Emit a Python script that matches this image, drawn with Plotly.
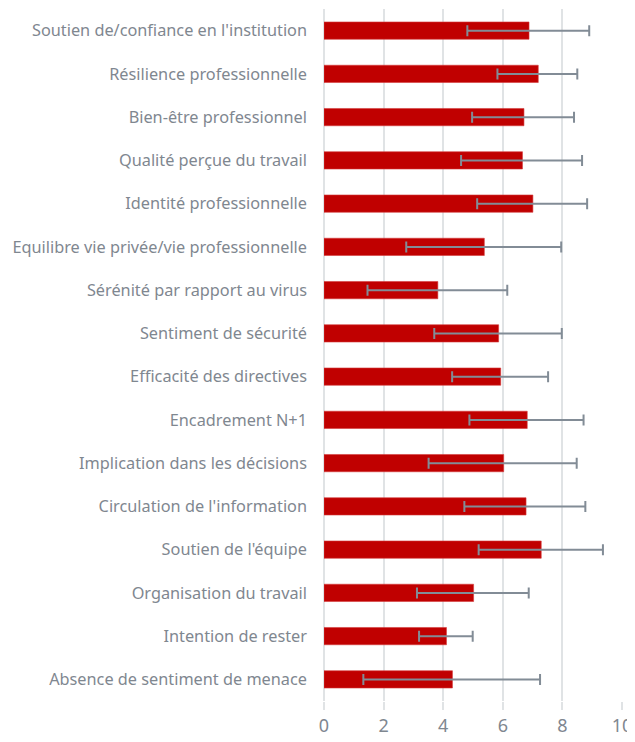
import plotly.graph_objects as go

categories = [
    "Soutien de/confiance en l'institution",
    "Résilience professionnelle",
    "Bien-être professionnel",
    "Qualité perçue du travail",
    "Identité professionnelle",
    "Equilibre vie privée/vie professionnelle",
    "Sérénité par rapport au virus",
    "Sentiment de sécurité",
    "Efficacité des directives",
    "Encadrement N+1",
    "Implication dans les décisions",
    "Circulation de l'information",
    "Soutien de l'équipe",
    "Organisation du travail",
    "Intention de rester",
    "Absence de sentiment de menace",
]
means = [6.88, 7.19, 6.71, 6.66, 7.01, 5.38, 3.82, 5.86, 5.93, 6.82, 6.03, 6.78, 7.29, 5.02, 4.11, 4.31]
err_plus = [2.02, 1.31, 1.68, 2.00, 1.82, 2.58, 2.33, 2.12, 1.59, 1.89, 2.45, 1.99, 2.07, 1.85, 0.88, 2.94]
err_minus = [2.07, 1.37, 1.74, 2.06, 1.87, 2.62, 2.36, 2.16, 1.63, 1.94, 2.52, 2.07, 2.10, 1.90, 0.92, 2.99]
x_ticks = [0, 2, 4, 6, 8, 10]

fig = go.Figure(go.Bar(
    y=categories,
    x=means,
    orientation="h",
    marker=dict(color="#C00000", line=dict(color="#D43A3A", width=0.6)),
    error_x=dict(type="data", array=err_plus, arrayminus=err_minus,
                 color="#828C96", thickness=2, width=5.5, visible=True),
    width=0.4,
))

# page body adds an 8px margin, so the figure is sized/offset to compensate
fig.update_layout(
    width=627, height=734,
    margin=dict(l=316, r=13, t=1, b=41),
    paper_bgcolor="white", plot_bgcolor="white",
    font=dict(family="Noto Sans", color="#7F8790"),
    showlegend=False,
    xaxis=dict(range=[0, 10], tickvals=x_ticks, showgrid=True, gridcolor="#E0E3E5",
               gridwidth=2, zeroline=True, zerolinecolor="#E0E3E5", zerolinewidth=2,
               ticks="outside", ticklen=8, tickcolor="#E0E3E5", tickwidth=2,
               tickfont=dict(size=18, color="#7F8790"), showline=False, automargin=False),
    yaxis=dict(autorange="reversed", tickfont=dict(size=16.3, color="#7F8790"),
               ticklabelstandoff=16, showgrid=False, showline=False, ticks="",
               automargin=False),
)

fig.write_html("out.html")
